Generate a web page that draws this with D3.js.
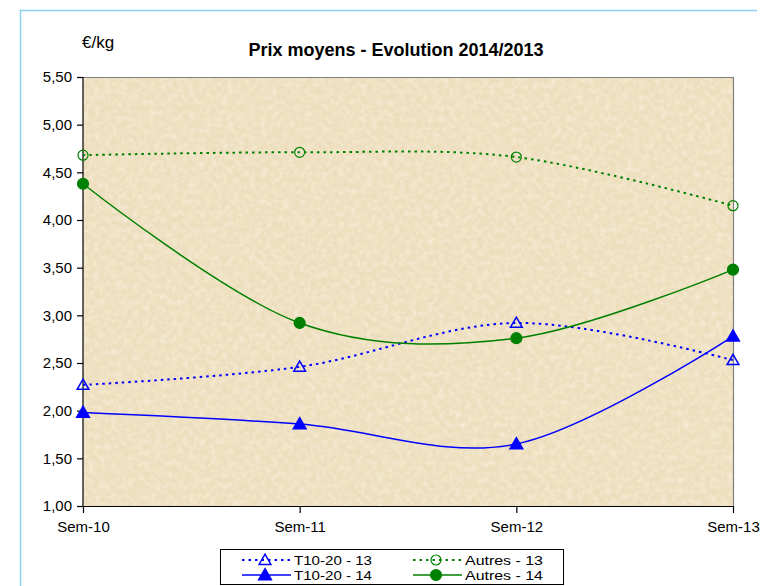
<!DOCTYPE html>
<html>
<head>
<meta charset="utf-8">
<script src="https://cdn.jsdelivr.net/npm/d3@7"></script>
<style>
  body { margin: 0; background: #fff; }
  svg { display: block; font-family: "Liberation Sans", Arial, sans-serif; }
</style>
</head>
<body>
<div id="chart"></div>
<script>
  const weeks = ["Sem-10", "Sem-11", "Sem-12", "Sem-13"];
  const yTicks = [1.0, 1.5, 2.0, 2.5, 3.0, 3.5, 4.0, 4.5, 5.0, 5.5];
  const t1020_13 = [2.27, 2.46, 2.92, 2.53];
  const t1020_14 = [1.98, 1.86, 1.65, 2.78];
  const autres_13 = [4.68, 4.71, 4.66, 4.15];
  const autres_14 = [4.38, 2.92, 2.76, 3.48];

  const series = [
    {name: "T10-20 - 13", values: t1020_13, color: "#0000ff", dashed: true, marker: "triangle", filled: false},
    {name: "Autres - 13", values: autres_13, color: "#008000", dashed: true, marker: "circle", filled: false},
    {name: "T10-20 - 14", values: t1020_14, color: "#0000ff", dashed: false, marker: "triangle", filled: true},
    {name: "Autres - 14", values: autres_14, color: "#008000", dashed: false, marker: "circle", filled: true}
  ];

  const width = 767, height = 586;
  const margin = {top: 77, right: 34, bottom: 80, left: 83};

  const svg = d3.select("#chart").append("svg")
      .attr("width", width)
      .attr("height", height);

  // paper-like texture for the plot background
  const defs = svg.append("defs");
  const filt = defs.append("filter").attr("id", "paper")
      .attr("x", 0).attr("y", 0).attr("width", "100%").attr("height", "100%");
  filt.append("feTurbulence")
      .attr("type", "fractalNoise")
      .attr("baseFrequency", 0.18)
      .attr("numOctaves", 4)
      .attr("seed", 7)
      .attr("result", "noise");
  filt.append("feColorMatrix")
      .attr("in", "noise")
      .attr("type", "matrix")
      .attr("values", "0 0 0 0 1  0 0 0 0 0.98  0 0 0 0 0.92  1.2 0 0 0 -0.45")
      .attr("result", "tint");
  filt.append("feComposite").attr("in", "tint").attr("in2", "SourceGraphic").attr("operator", "in");

  // outer chart border (light blue, partially visible)
  svg.append("path")
      .attr("d", "M20.5,586 L20.5,10.5 L757,10.5")
      .attr("fill", "none")
      .attr("stroke", "#8fd0f0")
      .attr("stroke-width", 1.5);

  const x = d3.scalePoint()
      .domain(weeks)
      .range([margin.left, width - margin.right]);

  const y = d3.scaleLinear()
      .domain([1, 5.5])
      .range([height - margin.bottom, margin.top]);

  const pw = x.range()[1] - x.range()[0];
  const ph = y(1) - y(5.5);

  svg.append("rect")
      .attr("x", margin.left).attr("y", margin.top)
      .attr("width", pw).attr("height", ph)
      .attr("fill", "#eddebd");
  svg.append("rect")
      .attr("x", margin.left).attr("y", margin.top)
      .attr("width", pw).attr("height", ph)
      .attr("fill", "#fff")
      .attr("filter", "url(#paper)")
      .attr("opacity", 0.7);

  // top and right frame
  svg.append("path")
      .attr("d", `M${margin.left},${margin.top + 0.5} H${x.range()[1] + 0.5} V${y(1)}`)
      .attr("fill", "none")
      .attr("stroke", "#808080")
      .attr("stroke-width", 1.2);

  const yAxis = d3.axisLeft(y)
      .tickValues(yTicks)
      .tickSize(6)
      .tickFormat(d => d3.format(".2f")(d).replace(".", ","));

  svg.append("g")
      .attr("transform", `translate(${margin.left},0)`)
      .call(yAxis)
      .call(g => g.selectAll("path, line").attr("stroke", "#000").attr("stroke-width", 1.2))
      .call(g => g.select(".domain").attr("d", `M0,${y(5.5)}V${y(1)}`))
      .call(g => g.selectAll("text")
          .attr("x", -11)
          .attr("font-size", 15)
          .attr("fill", "#000")
          .attr("font-family", "Liberation Sans, Arial, sans-serif"));

  const xAxis = d3.axisBottom(x).tickSize(7).tickSizeOuter(0);

  svg.append("g")
      .attr("transform", `translate(0,${y(1)})`)
      .call(xAxis)
      .call(g => g.selectAll("path, line").attr("stroke", "#000").attr("stroke-width", 1.2))
      .call(g => g.selectAll("text")
          .attr("y", 15)
          .attr("font-size", 15)
          .attr("fill", "#000")
          .attr("font-family", "Liberation Sans, Arial, sans-serif"));

  // title and unit
  svg.append("text")
      .attr("x", 396).attr("y", 56)
      .attr("text-anchor", "middle")
      .attr("font-size", 18)
      .attr("font-weight", "bold")
      .text("Prix moyens - Evolution 2014/2013");

  svg.append("text")
      .attr("x", 82).attr("y", 48)
      .attr("font-size", 17)
      .text("€/kg");

  const line = d3.line()
      .x((d, i) => x(weeks[i]))
      .y(d => y(d))
      .curve(d3.curveCardinal.tension(0));

  const tri = d3.symbol().type(d3.symbolTriangle);

  function drawMarker(g, s, cx, cy) {
    if (s.marker === "triangle") {
      g.append("path")
          .attr("transform", `translate(${cx},${cy + 1})`)
          .attr("d", tri.size(s.filled ? 70 : 60)())
          .attr("fill", s.filled ? s.color : "none")
          .attr("stroke", s.color)
          .attr("stroke-width", 1.5);
    } else {
      g.append("circle")
          .attr("cx", cx).attr("cy", cy)
          .attr("r", s.filled ? 5.5 : 5)
          .attr("fill", s.filled ? s.color : "none")
          .attr("stroke", s.color)
          .attr("stroke-width", 1.2);
    }
  }

  const plot = svg.append("g");
  series.forEach(s => {
    plot.append("path")
        .datum(s.values)
        .attr("d", line)
        .attr("fill", "none")
        .attr("stroke", s.color)
        .attr("stroke-width", s.dashed ? 2 : 1.5)
        .attr("stroke-dasharray", s.dashed ? "2.5,4" : null);
  });
  series.forEach(s => {
    const g = plot.append("g");
    s.values.forEach((v, i) => drawMarker(g, s, x(weeks[i]), y(v)));
  });

  // legend
  const legend = svg.append("g");
  legend.append("rect")
      .attr("x", 220.5).attr("y", 549.5)
      .attr("width", 343).attr("height", 35)
      .attr("fill", "#fff")
      .attr("stroke", "#000")
      .attr("stroke-width", 1);

  const legendPos = [
    {s: series[0], x: 242, y: 560},
    {s: series[1], x: 413, y: 560},
    {s: series[2], x: 242, y: 575},
    {s: series[3], x: 413, y: 575}
  ];
  legendPos.forEach(p => {
    const g = legend.append("g");
    g.append("line")
        .attr("x1", p.x).attr("x2", p.x + 49)
        .attr("y1", p.y).attr("y2", p.y)
        .attr("stroke", p.s.color)
        .attr("stroke-width", p.s.dashed ? 2 : 1.5)
        .attr("stroke-dasharray", p.s.dashed ? "2.5,4" : null);
    drawMarker(g, p.s, p.x + 23, p.y);
    g.append("text")
        .attr("x", p.x + 52).attr("y", p.y + 4.5)
        .attr("font-size", 13)
        .attr("textLength", 78)
        .attr("lengthAdjust", "spacingAndGlyphs")
        .text(p.s.name);
  });
</script>
</body>
</html>
